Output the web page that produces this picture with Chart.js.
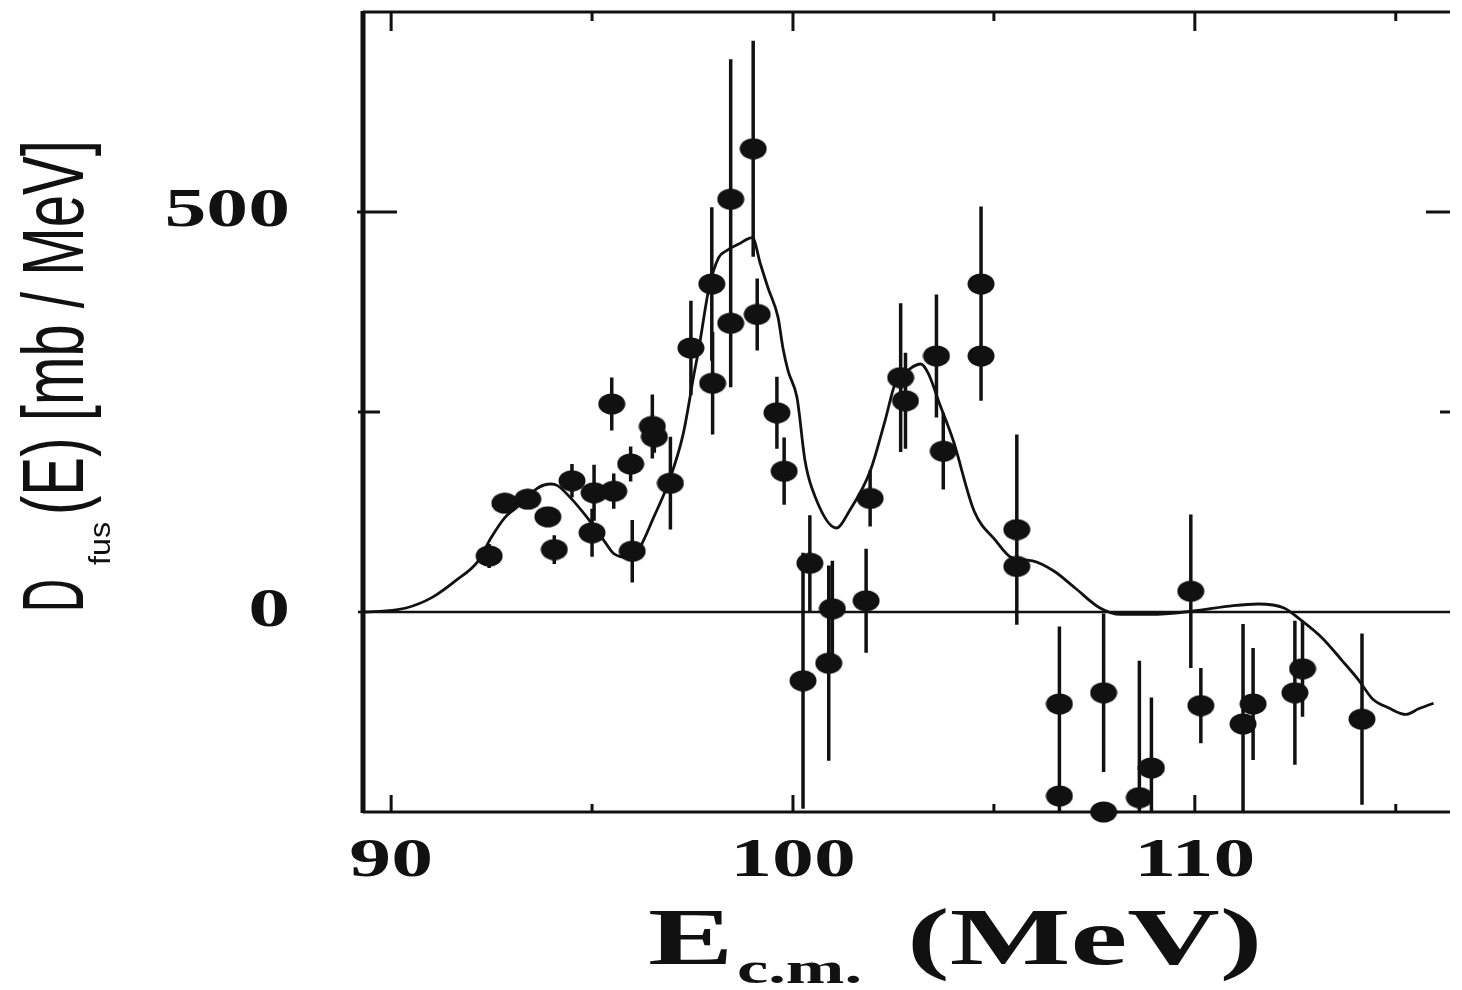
<!DOCTYPE html>
<html>
<head>
<meta charset="utf-8">
<script src="https://cdn.jsdelivr.net/npm/chart.js@4.4.1/dist/chart.umd.min.js"></script>
<style>
  html, body { margin: 0; padding: 0; background: #fff; overflow: hidden; }
  #wrap { width: 1462px; height: 990px; }
</style>
</head>
<body>
<div id="wrap"><canvas id="chart" width="1462" height="990"></canvas></div>
<script>
// measured points: E_cm (MeV), D_fus (mb/MeV), error
const energy = [92.44, 92.83, 93.40, 93.90, 94.06, 94.50, 95.00, 95.05, 95.49, 95.54,
                95.96, 96.00, 96.50, 96.55, 96.95, 97.46, 97.98, 98.00, 98.45, 98.45,
                99.01, 99.11, 99.60, 99.78, 100.25, 100.42, 100.89, 100.98, 101.82, 101.92,
                102.68, 102.80, 103.57, 103.74, 104.68, 104.68, 105.57, 105.57, 106.63, 106.63,
                107.73, 107.73, 108.62, 108.92, 109.90, 110.15, 111.20, 111.45, 112.49, 112.68,
                114.16];
const dfus = [70, 136, 141, 119, 78, 164, 99, 149, 260, 151,
              185, 76, 232, 219, 161, 330, 410, 286, 516, 361,
              579, 372, 249, 176, -86, 61, -64, 4, 14, 142,
              293, 264, 320, 201, 410, 320, 103, 57, -115, -230,
              -101, -250, -232, -195, 26, -117, -140, -115, -101, -71,
              -134];
const dfusErr = [15, 12, 12, 12, 18, 21, 30, 35, 33, 22,
                 22, 39, 40, 20, 58, 59, 96, 64, 175, 80,
                 135, 45, 45, 42, 160, 60, 122, 60, 65, 35,
                 93, 60, 77, 48, 97, 56, 119, 71, 97, 20,
                 99, 10, 171, 88, 96, 47, 125, 70, 90, 60,
                 107];

// calculated curve
const curveE = [89.29, 89.78, 90.37, 91.01, 91.60, 92.17, 92.49, 92.83, 93.23, 93.65,
                93.97, 94.14, 94.46, 94.88, 95.30, 95.54, 95.94, 96.18, 96.53, 96.92,
                97.27, 97.54, 97.66, 97.91, 98.15, 98.33, 98.65, 98.99, 99.19, 99.38,
                99.63, 99.75, 99.88, 100.10, 100.30, 100.47, 101.08, 101.40, 101.92, 102.29,
                102.54, 102.91, 103.18, 103.37, 103.65, 103.99, 104.51, 105.05, 105.44, 105.96,
                106.50, 107.02, 107.64, 108.15, 108.89, 109.93, 110.96, 111.58, 112.22, 112.61,
                113.18, 113.67, 114.09, 114.41, 114.83, 115.25, 115.57, 115.94];
const curveD = [0, 1, 5, 18, 39, 64, 93, 118, 135, 155,
                160, 158, 143, 118, 89, 73, 68, 80, 118, 164,
                223, 298, 330, 405, 443, 451, 460, 468, 435, 405,
                368, 330, 301, 268, 189, 155, 105, 126, 176, 239,
                285, 304, 310, 298, 260, 214, 126, 89, 68, 64,
                51, 30, 5, -3, -3, 1, 8, 10, 5, -9,
                -33, -61, -86, -108, -120, -128, -121, -114];

const xLabelTicks = [90, 100, 110];
const xMinorTicks = [95, 105, 115];
const yLabelTicks = [0, 500];
const yMinorTicks = [250];

const ink = '#111';

// filled ellipse used as point marker
const dot = document.createElement('canvas');
dot.width = 28;
dot.height = 22;
const g = dot.getContext('2d');
g.fillStyle = ink;
g.beginPath();
g.ellipse(14, 11, 13.5, 10.5, 0, 0, Math.PI * 2);
g.fill();

function stretchText(ctx, text, x, y, sx, align) {
    ctx.save();
    ctx.translate(x, y);
    ctx.scale(sx, 1);
    ctx.textAlign = align;
    ctx.fillText(text, 0, 0);
    ctx.restore();
}

// draws text along the (rotated) baseline, squeezed to a given length
function fitText(ctx, text, s, len, sy, base) {
    const w = ctx.measureText(text).width;
    ctx.save();
    ctx.translate(s, base);
    ctx.scale(len / w, sy);
    ctx.fillText(text, 0, 0);
    ctx.restore();
}

const framePlugin = {
    id: 'frame',
    beforeDatasetsDraw(chart) {
        const { ctx, chartArea: a, scales: { x, y } } = chart;
        ctx.save();
        ctx.strokeStyle = ink;
        ctx.lineCap = 'butt';

        // zero line
        ctx.lineWidth = 2.5;
        ctx.beginPath();
        ctx.moveTo(a.left - 5, y.getPixelForValue(0));
        ctx.lineTo(a.right, y.getPixelForValue(0));
        ctx.stroke();

        // error bars
        ctx.save();
        ctx.beginPath();
        ctx.rect(a.left, a.top, a.width, a.height);
        ctx.clip();
        ctx.lineWidth = 3.5;
        ctx.beginPath();
        energy.forEach((e, i) => {
            const px = x.getPixelForValue(e);
            ctx.moveTo(px, y.getPixelForValue(dfus[i] + dfusErr[i]));
            ctx.lineTo(px, y.getPixelForValue(dfus[i] - dfusErr[i]));
        });
        ctx.stroke();
        ctx.restore();

        // frame: left, top, bottom (right edge runs off the page)
        ctx.lineWidth = 5;
        ctx.beginPath();
        ctx.moveTo(a.left, a.top - 1);
        ctx.lineTo(a.left, a.bottom + 1);
        ctx.stroke();
        ctx.lineWidth = 3;
        ctx.beginPath();
        ctx.moveTo(a.left, a.top);
        ctx.lineTo(a.right, a.top);
        ctx.moveTo(a.left, a.bottom);
        ctx.lineTo(a.right, a.bottom);
        ctx.stroke();

        // inward ticks
        ctx.lineWidth = 3;
        ctx.beginPath();
        xLabelTicks.forEach(v => {
            const px = x.getPixelForValue(v);
            ctx.moveTo(px, a.top); ctx.lineTo(px, a.top + 19);
            ctx.moveTo(px, a.bottom); ctx.lineTo(px, a.bottom - 17);
        });
        xMinorTicks.forEach(v => {
            const px = x.getPixelForValue(v);
            ctx.moveTo(px, a.top); ctx.lineTo(px, a.top + 9);
            ctx.moveTo(px, a.bottom); ctx.lineTo(px, a.bottom - 8);
        });
        yLabelTicks.forEach(v => {
            if (v === 0) return;
            const py = y.getPixelForValue(v);
            ctx.moveTo(a.left - 6, py); ctx.lineTo(a.left + 34, py);
            ctx.moveTo(a.right, py); ctx.lineTo(a.right - 24, py);
        });
        yMinorTicks.forEach(v => {
            const py = y.getPixelForValue(v);
            ctx.moveTo(a.left - 5, py); ctx.lineTo(a.left + 17, py);
            ctx.moveTo(a.right, py); ctx.lineTo(a.right - 10, py);
        });
        ctx.stroke();
        ctx.restore();
    },
    afterDraw(chart) {
        const { ctx, scales: { x, y } } = chart;
        ctx.save();
        ctx.fillStyle = ink;
        ctx.textBaseline = 'alphabetic';

        // tick labels
        ctx.font = 'bold 54px "Liberation Serif"';
        xLabelTicks.forEach(v => {
            stretchText(ctx, String(v), x.getPixelForValue(v), 876, 1.55, 'center');
        });
        yLabelTicks.forEach(v => {
            stretchText(ctx, String(v), 290, y.getPixelForValue(v) + 14, 1.55, 'right');
        });

        // x title: E_c.m. (MeV)
        ctx.font = 'bold 80px "Liberation Serif"';
        stretchText(ctx, 'E', 648, 964, 1.6, 'left');
        stretchText(ctx, '(MeV)', 907, 964, 1.6, 'left');
        ctx.font = 'bold 44px "Liberation Serif"';
        stretchText(ctx, 'c.m.', 737, 983, 1.6, 'left');

        // y title: D_fus (E) [mb / MeV], reading upwards
        ctx.translate(83, y.getPixelForValue(0));
        ctx.rotate(-Math.PI / 2);
        ctx.textAlign = 'left';
        ctx.font = '56px "Liberation Sans"';
        fitText(ctx, 'D', 0, 33, 1.57, 0);
        fitText(ctx, '(E) [mb / MeV]', 97, 375, 1.57, 0);
        ctx.font = '30px "Liberation Sans"';
        fitText(ctx, 'fus', 47, 43, 1.0, 27);

        ctx.restore();
    }
};

new Chart(document.getElementById('chart'), {
    type: 'scatter',
    data: {
        datasets: [
            {
                label: 'data',
                data: energy.map((e, i) => ({ x: e, y: dfus[i] })),
                pointStyle: dot,
                pointRadius: 11,
                showLine: false,
                clip: false
            },
            {
                type: 'line',
                label: 'calc',
                data: curveE.map((e, i) => ({ x: e, y: curveD[i] })),
                borderColor: ink,
                borderWidth: 2.8,
                pointRadius: 0,
                fill: false,
                cubicInterpolationMode: 'monotone'
            }
        ]
    },
    options: {
        responsive: false,
        animation: false,
        events: [],
        layout: {
            padding: { left: 363, top: 10, right: 0, bottom: 178 }
        },
        plugins: {
            legend: { display: false },
            tooltip: { enabled: false }
        },
        scales: {
            x: { type: 'linear', min: 89.3, max: 116.35, display: false },
            y: { type: 'linear', min: -250, max: 750, display: false }
        }
    },
    plugins: [framePlugin]
});
</script>
</body>
</html>
